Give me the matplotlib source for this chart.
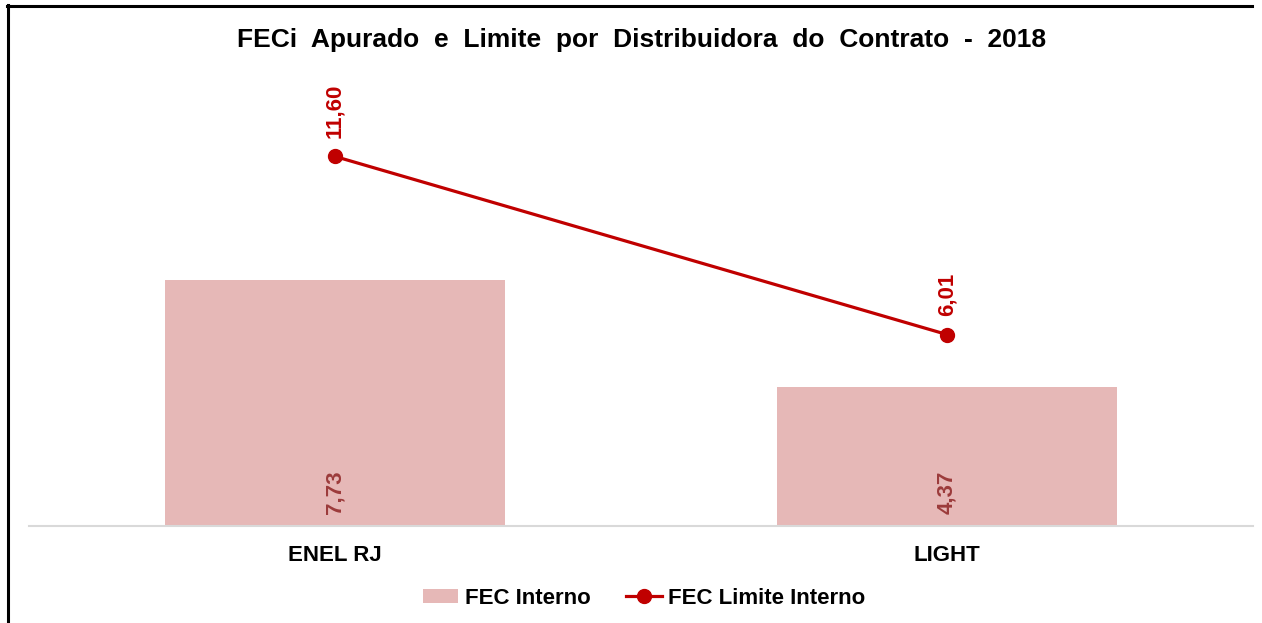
import matplotlib
matplotlib.use("Agg")
import matplotlib.pyplot as plt
from matplotlib.lines import Line2D
from matplotlib.patches import Patch

categories = ["ENEL RJ", "LIGHT"]
fec_interno = [7.73, 4.37]
fec_limite = [11.60, 6.01]
title = "FECi  Apurado  e  Limite  por  Distribuidora  do  Contrato  -  2018"

plt.rcParams['font.family'] = ['Liberation Sans', 'DejaVu Sans']

W, H = 1262, 623
fig = plt.figure(figsize=(W / 100, H / 100), dpi=100)
ax = fig.add_axes([29 / W, 1 - 526 / H, (1253 - 29) / W, (526 - 80) / H])

bar_color = "#E6B8B7"
line_color = "#C00000"
x = list(range(len(categories)))

ax.bar(x, fec_interno, width=0.556, color=bar_color, zorder=2)
ax.plot(x, fec_limite, color=line_color, lw=2.3, marker="o", markersize=10, zorder=3)

for xi, v in zip(x, fec_interno):
    ax.annotate(f"{v:.2f}".replace(".", ","), (xi, 0), xytext=(0, 9), textcoords="offset points",
                rotation=90, ha="center", va="bottom", fontsize=16, fontweight="bold", color="#9C3B3B")
for xi, v in zip(x, fec_limite):
    ax.annotate(f"{v:.2f}".replace(".", ","), (xi, v), xytext=(0, 13), textcoords="offset points",
                rotation=90, ha="center", va="bottom", fontsize=16, fontweight="bold", color=line_color)

ax.set_xlim(-0.5, 1.5)
ax.set_ylim(0, 14)
ax.set_xticks(x)
ax.set_xticklabels(categories, fontsize=16, fontweight="bold")
ax.tick_params(axis="x", length=0, pad=14)
ax.set_yticks([])
for s in ["top", "right", "left"]:
    ax.spines[s].set_visible(False)
ax.spines["bottom"].set_color("#D9D9D9")
ax.spines["bottom"].set_linewidth(1.5)

fig.text(642 / W, 1 - 40 / H, title, ha="center", va="center", fontsize=19, fontweight="bold")

handles = [Patch(facecolor=bar_color, edgecolor="none"),
           Line2D([], [], color=line_color, lw=2.3, marker="o", markersize=10)]
fig.legend(handles, ["FEC Interno", "FEC Limite Interno"], loc="center", bbox_to_anchor=(644 / W, 1 - 598 / H),
           ncol=2, frameon=False, prop={"size": 16, "weight": "bold"}, handlelength=1.6,
           handletextpad=0.3, columnspacing=1.6, handleheight=0.6)

# frame lines (top and left)
fig.add_artist(Line2D([7 / W, 1252 / W], [1 - 5.5 / H, 1 - 5.5 / H], color="black", lw=2.2, transform=fig.transFigure))
fig.add_artist(Line2D([8 / W, 8 / W], [0, 1 - 5 / H], color="black", lw=2.2, transform=fig.transFigure))

fig.savefig("out.png", dpi=100, facecolor="white")
